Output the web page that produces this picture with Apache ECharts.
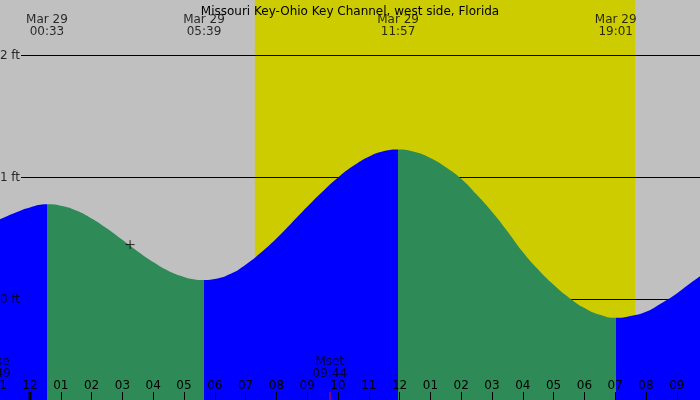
<!DOCTYPE html>
<html><head><meta charset="utf-8">
<script src="https://cdn.jsdelivr.net/npm/echarts@6/dist/echarts.min.js"></script>
<style>html,body{margin:0;padding:0;background:#c0c0c0}#c{width:700px;height:400px}</style>
</head><body><div id="c"></div>
<script>
const chartTitle = 'Missouri Key-Ohio Key Channel, west side, Florida';
const dateLabel = 'Mar 29';
// tide curve: hours since midnight Mar 29, height in ft
const curveHours = [-2, -1.5, -1, -0.5, 0, 0.55, 1, 1.5, 2, 2.5, 3, 3.5, 4, 4.5, 5, 5.3, 5.65,
  6, 6.5, 7, 7.5, 8, 8.5, 9, 9.5, 10, 10.5, 11, 11.5, 11.95,
  12.5, 13, 13.5, 14, 14.5, 15, 15.5, 16, 16.5, 17, 17.5, 18, 18.5, 19.02,
  19.5, 20, 20.5, 21, 21.5, 22];
const curveFeet = [0.53, 0.60, 0.655, 0.71, 0.755, 0.78, 0.768, 0.729, 0.664, 0.582, 0.489, 0.394, 0.307, 0.234, 0.185, 0.167, 0.16,
  0.168, 0.208, 0.285, 0.385, 0.50, 0.63, 0.76, 0.885, 1.0, 1.096, 1.171, 1.217, 1.23,
  1.209, 1.16, 1.085, 0.99, 0.86, 0.72, 0.56, 0.39, 0.245, 0.12, 0.015, -0.07, -0.125, -0.15,
  -0.135, -0.10, -0.03, 0.05, 0.145, 0.235];
// high / low tide times
const extremeTimes = ['00:33', '05:39', '11:57', '19:01'];
const extremeKinds = ['high', 'low', 'high', 'low'];
// daylight
const sunriseTime = '07:18';
const sunsetTime = '19:39';
// moon events
const moonLabels = ['Mrise', 'Mset'];
const moonTimes = ['22:49', '09:44'];
const moonDayOffsets = [-1, 0];
// current time marker
const nowTime = '03:15';
const nowFeet = 0.45;
// reference levels
const levelFeet = [0, 1, 2];
const levelLabels = ['0 ft', '1 ft', '2 ft'];
// hour tick labels for hours -2 .. 22
const hourLabels = ['10','11','12','01','02','03','04','05','06','07','08','09','10','11','12','01','02','03','04','05','06','07','08','09','10'];

const xMin = -2, xMax = 22, yMin = -100.5 / 122, yMax = 299.5 / 122;
const FONT = 'DejaVu Sans';
const BLUE = '#0000ff', GREEN = '#2e8b57', YELLOW = '#cccc00';

function toH(t, d) { const p = t.split(':').map(Number); return (d || 0) * 24 + p[0] + p[1] / 60; }

const extremeH = extremeTimes.map(t => toH(t));
const pieces = [];
for (let i = 0; i <= extremeH.length; i++) {
  const rising = i < extremeH.length ? extremeKinds[i] === 'high' : extremeKinds[i - 1] === 'low';
  const p = { color: rising ? BLUE : GREEN };
  if (i > 0) p.gte = extremeH[i - 1];
  if (i < extremeH.length) p.lt = extremeH[i];
  pieces.push(p);
}

const lineStart = -0.29;
const series = [];
// daylight band
series.push({
  type: 'custom', z: 1, silent: true,
  data: [[toH(sunriseTime), toH(sunsetTime)]],
  renderItem: (params, api) => {
    const a = api.coord([api.value(0), yMax]);
    const b = api.coord([api.value(1), yMin]);
    return { type: 'rect', shape: { x: a[0], y: a[1], width: b[0] - a[0], height: b[1] - a[1] }, style: { fill: YELLOW } };
  }
});
// level lines
levelFeet.forEach(f => series.push({
  type: 'line', z: 2, silent: true, symbol: 'none',
  data: [[lineStart, f], [xMax, f]],
  lineStyle: { color: '#000', width: 1 }
}));
// tide area
const tideIndex = series.length;
series.push({
  type: 'line', z: 3, silent: true, symbol: 'none', smooth: 0.5,
  data: curveHours.map((h, i) => [h, curveFeet[i]]),
  lineStyle: { width: 0 },
  areaStyle: { opacity: 1, origin: 'start' }
});
// midnight thick tick
series.push({
  type: 'custom', z: 6, silent: true,
  data: [[0, yMin]],
  renderItem: (params, api) => {
    const p = api.coord([api.value(0), yMin]);
    return { type: 'rect', shape: { x: p[0] - 1.5, y: p[1] - 8, width: 3, height: 8 }, style: { fill: '#000' } };
  }
});
// moon event ticks
series.push({
  type: 'custom', z: 6, silent: true,
  data: moonTimes.map((t, i) => [toH(t, moonDayOffsets[i]), yMin]),
  renderItem: (params, api) => {
    const p = api.coord([api.value(0), yMin]);
    return { type: 'rect', shape: { x: Math.round(p[0]) - 0.5, y: p[1] - 8, width: 1, height: 8 }, style: { fill: '#ff0000' } };
  }
});
// extreme labels at top
series.push({
  type: 'scatter', z: 7, silent: true, symbolSize: 0, clip: false,
  data: extremeTimes.map((t, i) => [extremeH[i], yMax, t]),
  label: { show: true, position: 'inside', offset: [0, 26], formatter: p => dateLabel + '\n' + p.value[2],
    color: '#000', fontSize: 12, fontFamily: FONT, lineHeight: 12, align: 'center' }
});
// moon labels at bottom
series.push({
  type: 'scatter', z: 7, silent: true, symbolSize: 0, clip: false,
  data: moonTimes.map((t, i) => [toH(t, moonDayOffsets[i]), yMin, moonLabels[i] + '\n' + t]),
  label: { show: true, position: 'inside', offset: [0, -32], formatter: p => p.value[2],
    color: '#000', fontSize: 12, fontFamily: FONT, lineHeight: 12, align: 'center' }
});
// level labels
series.push({
  type: 'scatter', z: 7, silent: true, symbolSize: 0, clip: false,
  data: levelFeet.map((f, i) => [lineStart, f, levelLabels[i]]),
  label: { show: true, position: 'left', distance: 1, formatter: p => p.value[2],
    color: '#000', fontSize: 12, fontFamily: FONT }
});
// now marker
series.push({
  type: 'scatter', z: 8, silent: true, symbol: 'path://M0,5L10,5M5,0L5,10', symbolSize: 9,
  data: [[toH(nowTime), nowFeet]],
  itemStyle: { color: 'transparent', borderColor: '#000', borderWidth: 1 }
});

const pxPerHour = 30.8, zeroX = 30;
const chart = echarts.init(document.getElementById('c'), null, { renderer: 'canvas' });
chart.setOption({
  animation: false,
  backgroundColor: '#c0c0c0',
  title: { text: chartTitle, left: 'center', top: 1, textStyle: { fontSize: 12, fontWeight: 'normal', color: '#000', fontFamily: FONT } },
  grid: { left: zeroX + xMin * pxPerHour, width: (xMax - xMin) * pxPerHour, top: 0, bottom: 0, containLabel: false, outerBoundsMode: 'none' },
  xAxis: {
    type: 'value', min: xMin, max: xMax, interval: 1, z: 10,
    axisLine: { show: false, onZero: false },
    axisTick: { show: true, inside: true, length: 8, lineStyle: { color: '#000', width: 1 } },
    axisLabel: { inside: true, margin: 8, color: '#000', fontSize: 12, fontFamily: FONT,
      formatter: v => hourLabels[Math.round(v - xMin)] },
    splitLine: { show: false }
  },
  yAxis: { type: 'value', min: yMin, max: yMax, show: false },
  visualMap: { show: false, type: 'piecewise', dimension: 0, seriesIndex: tideIndex, pieces: pieces },
  series: series
});
</script></body></html>
